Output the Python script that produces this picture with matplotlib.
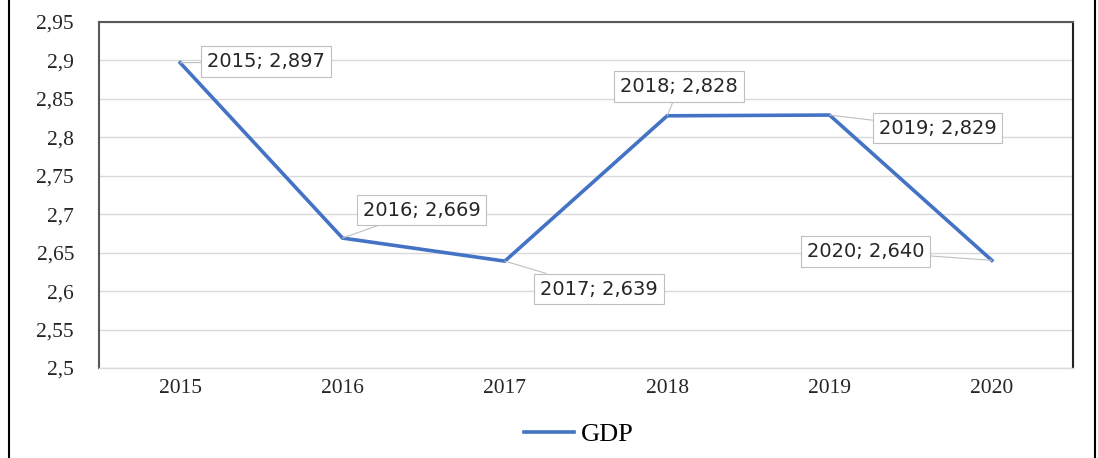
import matplotlib
matplotlib.use("Agg")
import matplotlib.pyplot as plt
from matplotlib.ticker import FuncFormatter, MultipleLocator
from matplotlib.lines import Line2D

years = ["2015", "2016", "2017", "2018", "2019", "2020"]
gdp = [2.897, 2.669, 2.639, 2.828, 2.829, 2.640]
series_name = "GDP"
# label offsets in pixels (dx, dy) relative to each point
label_offsets = [(86, 1), (79, 28), (94, -28), (12, 29), (108, -13), (-126, 9)]

fig = plt.figure(figsize=(10.98, 4.58), dpi=100)
ax = fig.add_axes([99/1098, 1-368/458, (1073-99)/1098, (368-22)/458])

x = list(range(len(years)))
line, = ax.plot(x, gdp, color="#4472C4", lw=2.6, solid_joinstyle="miter", label=series_name)

ax.set_xlim(-0.5, len(years) - 0.5)
ax.set_ylim(2.5, 2.95)
ax.yaxis.set_major_locator(MultipleLocator(0.05))
ax.yaxis.set_major_formatter(FuncFormatter(lambda v, p: ("%g" % round(v, 2)).replace(".", ",")))
ax.set_xticks(x)
ax.set_xticklabels(years)
ax.tick_params(length=0, labelsize=15.5)
ax.tick_params(axis="x", pad=8)
ax.tick_params(axis="y", pad=18)
for lab in ax.get_xticklabels() + ax.get_yticklabels():
    lab.set_fontfamily("Liberation Serif")
    lab.set_color("#262626")
ax.grid(axis="y", color="#D9D9D9", lw=1)
ax.set_axisbelow(True)
for s in ["left", "top"]:
    ax.spines[s].set_color("#595959")
    ax.spines[s].set_linewidth(1.5)
ax.spines["right"].set_color("#222222")
ax.spines["right"].set_linewidth(1.5)
ax.spines["bottom"].set_color("#D9D9D9")
ax.spines["bottom"].set_linewidth(1)

for i, (yr, v) in enumerate(zip(years, gdp)):
    dx, dy = label_offsets[i]
    ax.annotate(f"{yr}; {v:.3f}".replace(".", ","), xy=(i, v), xytext=(dx, dy),
                textcoords="offset pixels", ha="center", va="center",
                fontsize=14, family="DejaVu Sans", color="#262626",
                bbox=dict(boxstyle="square,pad=0.3", fc="white", ec="#BFBFBF", lw=0.8),
                arrowprops=dict(arrowstyle="-", color="#BFBFBF", lw=0.8, shrinkA=0, shrinkB=0))

leg = fig.legend(handles=[line], loc="center", bbox_to_anchor=(0.527, 1-434/458), frameon=False,
                 handlelength=1.9, handletextpad=0.25,
                 prop=dict(family="Liberation Serif", size=19))

fig.add_artist(Line2D([9/1098, 9/1098], [0, 1], color="black", lw=1.5, transform=fig.transFigure))
fig.add_artist(Line2D([1095/1098, 1095/1098], [0, 1], color="black", lw=1.5, transform=fig.transFigure))

fig.savefig("out.png", dpi=100)
